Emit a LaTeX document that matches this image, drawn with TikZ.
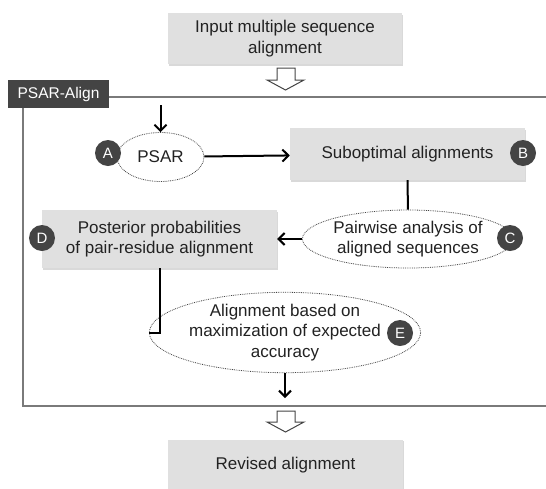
\documentclass[tikz,border=0pt]{standalone}
\usepackage{fontspec}
\setmainfont{Liberation Sans}
\usetikzlibrary{arrows.meta,shapes.geometric,shadows}
\definecolor{boxgray}{HTML}{E0E0E0}
\definecolor{markgray}{HTML}{444444}
\definecolor{framegray}{HTML}{7A7A7A}
\definecolor{textgray}{HTML}{222222}

\tikzset{
  stagebox/.style={rectangle, fill=boxgray, minimum width=235pt, minimum height=52pt,
    align=center, drop shadow={opacity=0.3, shadow xshift=1pt, shadow yshift=-1.5pt}},
  toolnode/.style={ellipse, draw=markgray, densely dotted, line width=0.8pt, fill=white,
    inner sep=0pt, align=center},
  tag/.style={circle, fill=markgray, text=white, minimum size=26pt, inner sep=0pt,
    font=\fontsize{15}{15}\selectfont},
  flow/.style={-{Straight Barb[length=6pt,width=12pt,line width=2pt]}, line width=2pt},
  hollow/.style={draw=markgray, fill=white, line width=1pt, line join=miter},
}

\begin{document}
\begin{tikzpicture}[x=1pt, y=-1pt, text=textgray, font=\fontsize{17}{20.5}\selectfont]
  \useasboundingbox (0,0) rectangle (546,488);
  % frame of the tool
  \draw[framegray, line width=1.8pt] (560,97) -- (23,97) -- (23,406) -- (560,406);
  \node[rectangle, fill=markgray, text=white, minimum width=101pt, minimum height=28pt,
    font=\fontsize{15.5}{16}\selectfont] (psaralign) at (58.5,94) {PSAR-Align};

  % input and output
  \node[stagebox, minimum width=234pt, minimum height=51pt] (input) at (285,38.5)
    {Input multiple sequence\\alignment};
  \node[stagebox, minimum height=51pt] (revised) at (285.5,465) {Revised alignment};
  \draw[hollow] (277,68) -- (295,68) -- (295,80) -- (304,80) -- (285.5,90) -- (267,80) -- (277,80) -- cycle;
  \draw[hollow] (277,411) -- (295,411) -- (295,422) -- (304,422) -- (285.5,432) -- (267,422) -- (277,422) -- cycle;

  % steps
  \node[toolnode, minimum width=87pt, minimum height=49pt] (psar) at (160.5,157) {PSAR};
  \node[stagebox] (subopt) at (407.5,154) {Suboptimal alignments};
  \node[toolnode, minimum width=198pt, minimum height=58pt] (pairwise) at (408,239)
    {Pairwise analysis of\\aligned sequences};
  \node[stagebox, minimum height=58pt] (posterior) at (159.5,239)
    {Posterior probabilities\\of pair-residue alignment};
  \node[toolnode, minimum width=216pt, minimum height=75pt] (mea) at (285,332.5)
    {Alignment based on\\maximization of expected\\accuracy};

  \coordinate (entry) at (160.5,105);
  \coordinate (exit) at (285,398);
  \draw[flow] (entry) -- (psar);
  \draw[flow] (psar) -- (subopt);
  \draw[line width=2pt] (subopt) -- (pairwise);
  \draw[flow] (pairwise) -- (posterior);
  \draw[line width=2pt] (posterior.south) |- (mea.west);
  \draw[flow] (mea) -- (exit);

  % step letters
  \node[tag] (taga) at (108,153) {A};
  \node[tag] (tagb) at (523,153) {B};
  \node[tag] (tagc) at (510,238) {C};
  \node[tag] (tagd) at (42,238) {D};
  \node[tag] (tage) at (400,333) {E};
\end{tikzpicture}
\end{document}
